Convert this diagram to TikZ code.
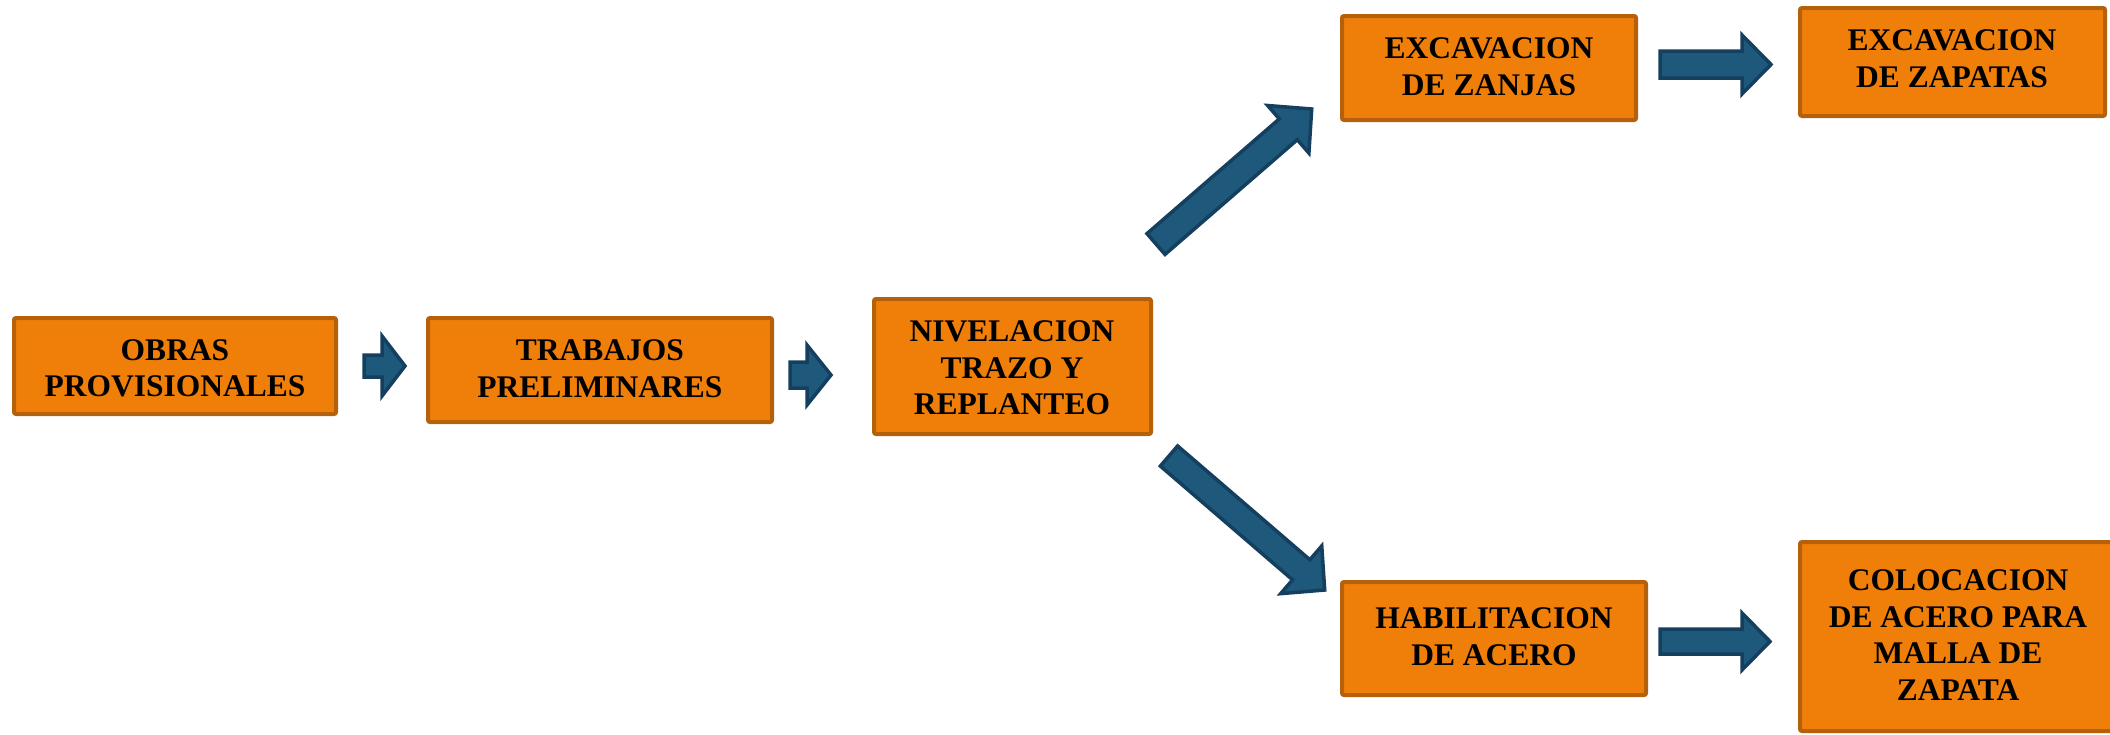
\documentclass[tikz,border=0pt]{standalone}
\usepackage{fontspec}
\setmainfont{Liberation Serif}
\usetikzlibrary{calc}
\definecolor{boxfill}{RGB}{240,127,10}
\definecolor{boxline}{RGB}{181,96,10}
\definecolor{arrfill}{RGB}{30,88,122}
\definecolor{arrline}{RGB}{21,63,94}
\tikzset{
  box/.style={draw=boxline, fill=boxfill, line width=4pt, rounded corners=2pt, inner sep=0pt},
  boxtext/.style={inner sep=0pt, align=center, text=black,
    font=\fontsize{31.5}{36.6}\selectfont\bfseries},
  blockarrow/.style={draw=arrline, fill=arrfill, line width=3.5pt, line join=miter}
}
% #1 tail coordinate, #2 tip coordinate, #3 shaft half width, #4 head half width, #5 head length
\newcommand\blkarrow[5]{%
  \coordinate (#1n) at ($(#2)!#5!(#1)$);
  \path[blockarrow] ($(#1)!#3!90:(#2)$) -- ($(#1n)!#3!90:(#2)$) -- ($(#1n)!#4!90:(#2)$)
    -- (#2) -- ($(#1n)!#4!-90:(#2)$) -- ($(#1n)!#3!-90:(#2)$) -- ($(#1)!#3!-90:(#2)$) -- cycle;}
\begin{document}
\begin{tikzpicture}[x=1pt, y=-1pt]
\useasboundingbox (0,0) rectangle (2110,734);
% boxes
\node[box, minimum width=322pt, minimum height=96pt] (obras) at (175,366) {};
\node[box, minimum width=344pt, minimum height=104pt] (trab) at (600,370) {};
\node[box, minimum width=277pt, minimum height=135pt] (nivel) at (1012.5,366.5) {};
\node[box, minimum width=294pt, minimum height=104pt] (zanjas) at (1489,68) {};
\node[box, minimum width=305pt, minimum height=108pt] (zapatas) at (1952.5,62) {};
\node[box, minimum width=304pt, minimum height=113pt] (habil) at (1494,638.5) {};
\node[box, minimum width=356pt, minimum height=189pt] (coloc) at (1978,636.5) {};
% texts
\node[boxtext] (obrasT) at (175,368.5) {OBRAS\\PROVISIONALES};
\node[boxtext] (trabT) at (600,368.5) {TRABAJOS\\PRELIMINARES};
\node[boxtext] (nivelT) at (1012,368) {NIVELACION\\TRAZO Y\\REPLANTEO};
\node[boxtext] (zanjasT) at (1489,67) {EXCAVACION\\DE ZANJAS};
\node[boxtext] (zapatasT) at (1952,58.5) {EXCAVACION\\DE ZAPATAS};
\node[boxtext] (habilT) at (1494,636.5) {HABILITACION\\DE ACERO};
\node[boxtext] (colocT) at (1958,635) {COLOCACION\\DE ACERO PARA\\MALLA DE\\ZAPATA};
% arrow ends
\coordinate (a1t) at (364,366);    \coordinate (a1h) at (405,366);
\coordinate (a2t) at (790,375);    \coordinate (a2h) at (831,375);
\coordinate (a3t) at (1660,64.5);  \coordinate (a3h) at (1771,64.5);
\coordinate (a4t) at (1660,641.5); \coordinate (a4h) at (1770,641.5);
\coordinate (a5t) at (1156,244);   \coordinate (a5h) at (1311.7,109);
\coordinate (a6t) at (1169,456);   \coordinate (a6h) at (1324.7,590);
% block arrows
\blkarrow{a1t}{a1h}{11pt}{30pt}{23pt}
\blkarrow{a2t}{a2h}{13pt}{30pt}{24pt}
\blkarrow{a3t}{a3h}{13.5pt}{29.5pt}{29pt}
\blkarrow{a4t}{a4h}{12.5pt}{28.5pt}{28pt}
\blkarrow{a5t}{a5h}{13.75pt}{31.5pt}{31pt}
\blkarrow{a6t}{a6h}{13.25pt}{31.5pt}{31pt}
\end{tikzpicture}
\end{document}
